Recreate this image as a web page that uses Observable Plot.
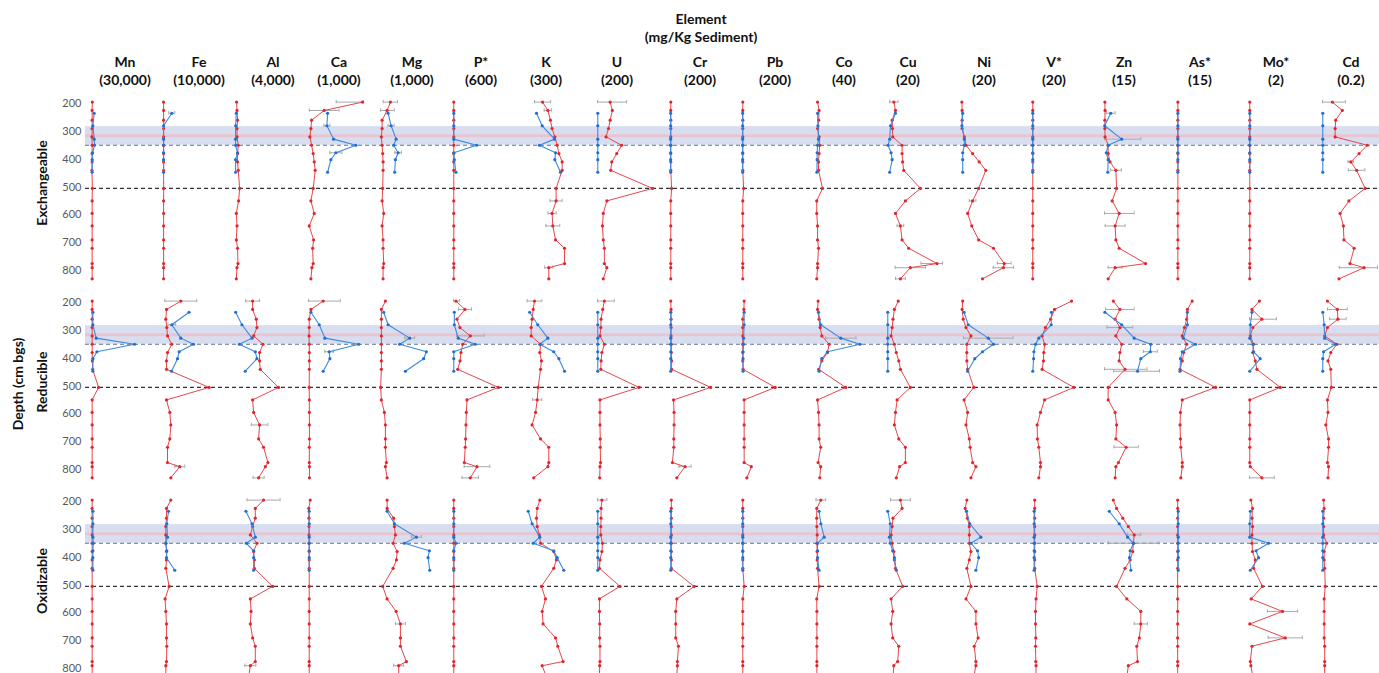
<!DOCTYPE html>
<html><head><meta charset="utf-8">
<script src="https://cdn.jsdelivr.net/npm/d3@7"></script>
<script src="https://cdn.jsdelivr.net/npm/@observablehq/plot@0.6"></script>
<style>
html,body{margin:0;padding:0;background:#fff}
body{width:1379px;height:673px;overflow:hidden;position:relative;font-family:Lato,"Open Sans",sans-serif;color:#111}
.t{position:absolute;transform:translate(-50%,-50%);white-space:nowrap;font-weight:700;font-size:14px;line-height:16px;text-align:center}
.rot{transform:translate(-50%,-50%) rotate(-90deg)}
svg.p{position:absolute}
</style></head><body>
<script>
// ---------- data ----------
const elements = ["Mn","Fe","Al","Ca","Mg","P*","K","U","Cr","Pb","Co","Cu","Ni","V*","Zn","As*","Mo*","Cd"];
const scaleMax = [30000,10000,4000,1000,1000,600,300,200,200,200,40,20,20,20,15,15,2,0.2];
const scaleLabels = ["(30,000)","(10,000)","(4,000)","(1,000)","(1,000)","(600)","(300)","(200)","(200)","(200)","(40)","(20)","(20)","(20)","(15)","(15)","(2)","(0.2)"];
const fractions = ["Exchangeable","Reducible","Oxidizable"];
const depthTicks = [200,300,400,500,600,700,800];
const redDepths = [195,225,260,290,320,350,380,410,440,505,550,595,640,690,720,775,790,830];
const blueDepths = [235,280,328,350,377,402,447];
const bandDepths = {bandTop: 283, bandBottom: 350};
const centerDepth = 316;
const blueDashDepth = 350;
const blackDashDepth = 505;

// Exchangeable fraction (mg/kg), one array per element in the order of `elements`
const exchangeableRed = [
  [1000,900,900,900,800,900,900,900,800,1000,900,900,900,900,900,900,900,900],
  [20,20,20,20,20,20,20,20,20,30,20,20,20,20,20,20,20,20],
  [80,110,150,110,110,200,150,150,200,300,225,60,110,60,150,180,110,60],
  [984,285,56,44,25,56,85,104,122,85,44,104,13,93,75,85,62,44],
  [180,120,29,29,16,29,40,47,47,40,29,58,29,47,47,58,47,47],
  [3,3,3,3,3,3,3,3,3,3,3,3,3,3,3,3,3,3],
  [93,122,136,145,160,173,182,200,200,167,167,145,149,164,213,213,127,127],
  [46,54,46,40,31,88,70,52,48,200,34,21,18,21,25,25,34,21],
  [1,1,1,1,1,1,1,1,1,4,1,1,1,1,1,1,1,1],
  [1,1,1,1,1,1,1,1,1,4,1,1,1,1,1,1,1,1],
  [1.5,2.6,2.3,1.5,2.6,3.1,2.6,2.2,2.2,5.1,0.9,0.9,1.5,1.5,2.2,1.5,1.5,0.9],
  [2.3,2.9,1.7,1.8,1.9,5.3,5.3,5.5,5.9,12.0,6.5,2.9,4.7,5.3,7.7,18.0,8.3,4.7],
  [0.5,0.6,0.6,0.6,1.4,2.0,4.4,6.8,9.2,6.6,4.4,2.6,4.1,6.6,12.0,15.9,15.6,8.0],
  [0.1,0.1,0.1,0.1,0.1,0.1,0.1,0.1,0.1,0.1,0.1,0.1,0.1,0.1,0.1,0.1,0.1,0.1],
  [0.1,0.15,0.1,0.1,0.15,1.0,1.0,1.5,3.1,3.3,2.1,4.0,2.9,3.1,4.0,11.2,2.9,1.0],
  [0.1,0.1,0.1,0.1,0.1,0.1,0.1,0.1,0.1,0.1,0.1,0.1,0.1,0.1,0.1,0.1,0.1,0.1],
  [0.01,0.01,0.01,0.01,0.01,0.01,0.01,0.01,0.01,0.01,0.01,0.01,0.01,0.01,0.01,0.01,0.01,0.01],
  [0.036,0.072,0.048,0.046,0.046,0.163,0.133,0.103,0.124,0.155,0.096,0.064,0.076,0.078,0.115,0.1,0.151,0.06]
];
const exchangeableBlue = [
  [2000,1300,2000,2200,1100,900,900],
  [1510,10,10,10,10,10,10],
  [58,10,5,10,150,5,10],
  [347,335,456,862,498,407,347],
  [138,193,284,240,320,271,258],
  [3,3,3,253,3,9,27],
  [60,91,158,76,164,160,191],
  [1,1,1,1,1,1,1],
  [0.5,0.5,0.5,0.5,0.5,0.5,0.5],
  [0.5,0.5,0.5,0.5,0.5,0.5,0.5],
  [1.5,1.8,2.2,1.5,1.2,1.2,1.0],
  [2.9,1.1,0.8,0.2,1.3,1.7,0.8],
  [0.8,0.5,1.4,1.4,0.8,0.8,0.8],
  [0.1,0.1,0.1,0.1,0.1,0.1,0.1],
  [1.7,0.05,4.7,1.0,0.5,1.0,0.9],
  [0.1,0.1,0.1,0.1,0.1,0.1,0.1],
  [0.01,0.01,0.01,0.01,0.01,0.01,0.01],
  [0.001,0.001,0.001,0.001,0.001,0.001,0.001]
];
// Reducible fraction
const reducibleRed = [
  [900,900,900,900,900,900,900,1000,1200,4400,900,900,900,900,900,900,900,900],
  [3150,545,420,600,730,1510,730,545,545,8290,545,1150,1330,1150,730,730,2960,1330],
  [1245,1245,1510,1560,1320,2000,1750,1750,1800,3130,1245,1320,1750,1680,2040,2360,2170,1680],
  [267,44,13,13,10,13,15,15,15,13,15,15,17,17,15,15,17,17],
  [89,16,16,16,16,16,16,16,16,2,16,71,89,89,89,107,89,120],
  [27,125,38,70,183,100,82,71,46,489,147,140,136,132,128,118,256,183],
  [49,42,36,31,31,82,78,87,82,69,64,55,36,82,127,127,122,45],
  [25,19,13,12,9,25,16,13,12,151,9,9,9,10,10,11,9,8],
  [1,2,2,2,2,3,3,4,4,146,11,13,13,12,12,7,53,23],
  [6,5,1,1,1,1,1,1,2,119,6,6,6,6,6,6,32,16],
  [1.9,1.5,2.6,3.4,4.6,9.9,8.7,4.6,2.3,22,1.5,2.2,2.6,2.6,3.8,1.9,3.8,3.1],
  [3.9,2.5,2.0,1.7,1.3,2.5,3.2,4.1,4.7,8.3,3.5,2.9,2.5,4.1,6.5,6.5,4.4,3.2],
  [0.8,0.6,1.0,2.0,3.8,2.3,2.3,2.3,2.6,4.8,1.3,2.6,2.0,3.2,3.5,4.4,5.6,3.8],
  [14.2,8.0,6.6,4.7,3.5,4.4,4.1,4.0,3.5,15.0,4.4,2.9,1.7,1.8,2.3,2.9,2.9,2.3],
  [2.4,4.2,2.9,4.2,3.1,4.7,4.2,4.0,5.6,1.0,1.0,2.9,3.3,3.1,5.9,3.8,3.1,2.9],
  [4.0,2.7,2.5,1.9,1.3,2.5,1.7,1.3,0.7,10.4,1.3,0.8,0.7,0.8,0.9,1.3,1.3,0.9],
  [0.36,0.09,0.45,0.12,0.03,0.15,0.12,0.21,0.27,1.12,0.01,0.01,0.01,0.01,0.01,0.01,0.03,0.45],
  [0.018,0.054,0.056,0.018,0.008,0.052,0.030,0.020,0.030,0.032,0.018,0.020,0.012,0.022,0.022,0.018,0.022,0.020]
];
const reducibleBlue = [
  [1300,1300,3100,24000,3500,1300,1300],
  [4650,1510,3150,5450,2840,2550,1450],
  [10,470,1200,280,1440,1560,710],
  [44,195,298,911,376,389,267],
  [58,138,531,349,834,785,453],
  [9,9,52,238,3,3,3],
  [23,67,122,78,154,182,213],
  [1,1,1,1,1,1,1],
  [1,1,1,1,1,1,1],
  [6,6,4,4,2,2,2],
  [2.2,3.8,18.4,32.4,8.7,4.6,2.6],
  [0.1,0.1,0.1,0.1,0.1,0.1,0.1],
  [1.3,2.8,10.1,12.0,8.0,5.2,2.6],
  [6.9,6.8,2.3,1.1,0.5,0.4,0.1],
  [0.1,4.7,8.1,12.6,12.5,9.9,9.0],
  [2.7,2.7,1.6,4.9,1.3,0.8,0.7],
  [0.09,0.03,0.01,0.12,0.15,0.39,0.01],
  [0.001,0.006,0.008,0.048,0.004,0.001,0.001]
];
// Oxidizable fraction
const oxidizableRed = [
  [900,900,900,900,900,900,900,900,900,900,900,900,900,900,900,900,900,900],
  [1330,545,545,420,420,420,545,545,420,1020,290,420,545,545,600,545,420,420],
  [2040,1440,1440,1245,1080,1560,1320,1370,1370,2700,1080,1130,1080,1245,1440,1440,1080,950],
  [31,5,8,10,10,10,13,13,13,13,13,13,13,13,13,13,13,13],
  [120,120,240,253,271,229,302,289,229,40,120,284,362,362,362,471,331,331],
  [3,3,3,3,3,3,3,3,3,3,3,3,3,3,3,3,3,3],
  [78,64,60,64,75,82,154,169,154,87,109,91,96,164,176,205,91,114],
  [16,13,13,12,12,18,16,9,7,82,7,7,8,8,9,9,8,7],
  [3,3,3,3,3,3,3,3,3,86,23,19,19,19,29,25,25,23],
  [1,1,1,1,1,1,1,1,1,6,1,1,1,1,1,1,1,1],
  [3.9,0.9,0.9,1.0,1.2,1.0,1.2,1.2,1.5,2.6,0.9,1.0,1.0,1.0,1.0,1.0,1.0,1.0],
  [4.7,5.3,2.0,1.7,1.3,1.7,2.3,2.5,2.9,5.5,1.3,1.9,1.3,1.9,4.1,3.7,2.3,2.0],
  [2.3,1.7,2.5,3.2,3.2,3.2,3.8,3.2,2.3,3.8,2.0,5.6,5.6,6.4,5.0,5.6,5.6,4.8],
  [0.8,0.8,0.8,0.8,0.8,0.8,0.8,0.8,0.8,1.7,1.3,1.1,1.1,1.2,1.1,1.2,1.3,1.2],
  [2.4,3.3,5.0,6.5,8.1,7.9,7.7,7.0,5.6,3.3,6.1,9.9,9.9,9.5,8.8,9.0,6.5,6.1],
  [0.05,0.05,0.05,0.05,0.05,0.05,0.05,0.05,0.05,0.05,0.05,0.05,0.05,0.05,0.05,0.05,0.05,0.05],
  [0.05,0.11,0.09,0.11,0.09,0.09,0.11,0.21,0.15,0.47,0.06,1.20,0.01,1.30,0.09,0.03,0.05,0.12],
  [0.004,0.006,0.004,0.004,0.004,0.015,0.006,0.006,0.008,0.010,0.006,0.006,0.006,0.006,0.008,0.008,0.008,0.008]
];
const oxidizableBlue = [
  [1300,1300,1300,1500,1300,1300,1300],
  [910,600,730,420,600,545,2050],
  [760,1200,1440,785,1320,1320,1320],
  [13,13,13,13,13,13,13],
  [120,253,653,435,889,865,895],
  [3,3,3,27,3,3,3],
  [15,36,78,42,154,173,209],
  [1,1,1,1,1,1,1],
  [1,1,1,1,1,1,1],
  [1,1,1,1,1,1,1],
  [2.6,3.9,6.3,1.5,1.5,1.5,2.6],
  [0.1,1.0,0.7,1.0,1.9,2.5,3.2],
  [2.2,3.4,7.4,3.8,6.2,6.6,5.6],
  [0.6,0.6,0.6,0.6,0.6,0.6,0.6],
  [1.3,4.0,6.3,7.9,7.0,6.8,7.2],
  [0.2,0.2,0.2,0.2,0.2,0.2,0.2],
  [0.03,0.01,0.01,0.69,0.24,0.33,0.03],
  [0.001,0.001,0.001,0.001,0.001,0.001,0.001]
];
// error bars: [fraction, element, core, depth, ± error]
const errorBars = [
  ["Exchangeable","Ca","red",195,480],["Exchangeable","Ca","red",225,270],["Exchangeable","Ca","blue",280,55],["Exchangeable","Ca","blue",377,110],
  ["Exchangeable","Mg","red",195,130],["Exchangeable","Mg","red",225,130],["Exchangeable","Mg","blue",280,55],["Exchangeable","Mg","blue",377,60],
  ["Exchangeable","Fe","blue",235,550],
  ["Exchangeable","K","red",195,44],["Exchangeable","K","red",225,20],["Exchangeable","K","red",550,33],["Exchangeable","K","red",595,22],["Exchangeable","K","red",640,38],["Exchangeable","K","red",790,22],
  ["Exchangeable","U","red",195,60],
  ["Exchangeable","Cu","red",195,1.5],["Exchangeable","Cu","red",775,5.8],["Exchangeable","Cu","red",790,5.5],["Exchangeable","Cu","red",830,1.8],["Exchangeable","Cu","red",640,1.2],
  ["Exchangeable","Ni","red",775,2.5],["Exchangeable","Ni","red",790,3.7],["Exchangeable","Ni","red",550,1.2],
  ["Exchangeable","Zn","blue",328,5.2],["Exchangeable","Zn","red",595,4.1],["Exchangeable","Zn","red",640,2.7],["Exchangeable","Zn","red",790,1.9],["Exchangeable","Zn","red",440,1.5],["Exchangeable","Zn","blue",235,1.2],
  ["Exchangeable","Cd","red",195,0.047],["Exchangeable","Cd","red",440,0.03],["Exchangeable","Cd","red",790,0.09],["Exchangeable","Cd","red",410,0.01],
  ["Reducible","Fe","red",195,2900],["Reducible","Fe","red",790,900],["Reducible","Fe","blue",280,700],
  ["Reducible","Al","red",195,500],["Reducible","Al","red",640,600],["Reducible","Al","red",830,400],
  ["Reducible","Ca","red",195,310],["Reducible","Ca","blue",377,80],
  ["Reducible","Mg","blue",328,90],
  ["Reducible","P*","red",320,150],["Reducible","P*","red",790,140],["Reducible","P*","red",830,90],["Reducible","P*","red",225,70],["Reducible","P*","red",195,40],
  ["Reducible","K","red",195,40],["Reducible","K","red",550,25],
  ["Reducible","U","red",195,36],
  ["Reducible","Cr","red",790,22],
  ["Reducible","Co","blue",328,11],
  ["Reducible","Ni","blue",328,9],
  ["Reducible","Zn","red",225,3.9],["Reducible","Zn","red",290,3.5],["Reducible","Zn","red",440,6.0],["Reducible","Zn","blue",447,6.5],["Reducible","Zn","blue",377,1.9],["Reducible","Zn","red",720,3.3],
  ["Reducible","Mo*","red",260,0.53],["Reducible","Mo*","red",830,0.45],
  ["Reducible","Cd","red",225,0.036],["Reducible","Cd","red",260,0.03],
  ["Oxidizable","Al","red",195,1200],["Oxidizable","Al","red",790,400],
  ["Oxidizable","Mg","blue",328,90],["Oxidizable","Mg","red",640,90],["Oxidizable","Mg","red",790,90],
  ["Oxidizable","Zn","blue",350,6.9],["Oxidizable","Zn","red",320,1.8],["Oxidizable","Zn","red",640,1.8],
  ["Oxidizable","Mo*","red",595,0.55],["Oxidizable","Mo*","red",690,0.62],
  ["Oxidizable","U","red",195,18],
  ["Oxidizable","Co","red",195,3.5],
  ["Oxidizable","Cu","red",195,3.6]
];

// ---------- layout ----------
const W = 1379;
const rowTop = [95, 294, 493];
const rowH = 195, mTop = 8, mBottom = 20;
const panelX0 = 90.3, panelStep = 72.44, panelPadL = 7, panelW = 72, panelPadR = 10;
const headerCenters = [125,199,273,339,412,481,546,617,700,775,844,908,984,1054,1124,1200,1276,1351];
const RED = "#e0262d", REDLINE = "#e5464c", BLUE = "#1f6fd0", BLUELINE = "#3a8ae0", ERR = "#a9a9a9";
const redByFraction = [exchangeableRed, reducibleRed, oxidizableRed];
const blueByFraction = [exchangeableBlue, reducibleBlue, oxidizableBlue];

function addText(txt, x, y, cls, extra) {
  const d = document.createElement("div");
  d.className = "t" + (cls ? " " + cls : "");
  d.textContent = txt;
  d.style.left = x + "px"; d.style.top = y + "px";
  if (extra) Object.assign(d.style, extra);
  document.body.appendChild(d);
}
function place(svg, left, top) {
  svg.classList.add("p");
  svg.style.left = left + "px"; svg.style.top = top + "px";
  document.body.appendChild(svg);
}

// titles
addText("Element", 701, 19);
addText("(mg/Kg Sediment)", 701, 37);
elements.forEach((e, i) => {
  addText(e, headerCenters[i], 62);
  addText(scaleLabels[i], headerCenters[i], 80);
});
addText("Depth (cm bgs)", 18, 384, "rot");

fractions.forEach((fr, r) => {
  const top = rowTop[r];
  // background: band, reference lines and depth axis
  const bg = Plot.plot({
    width: W, height: rowH, marginLeft: 85, marginRight: 0, marginTop: mTop, marginBottom: mBottom,
    style: {background: "transparent", fontFamily: "Lato, 'Open Sans', sans-serif", fontSize: "11px", color: "#595959", overflow: "visible"},
    y: {domain: [200, 800], reverse: true, ticks: depthTicks, tickSize: 0, tickPadding: 4, label: null},
    marks: [
      Plot.rect([bandDepths], {y1: "bandTop", y2: "bandBottom", fill: "#d8deef"}),
      Plot.ruleY([centerDepth], {stroke: "#e8c6d1", strokeWidth: 3}),
      Plot.ruleY([blueDashDepth], {stroke: "#66708a", strokeWidth: 1, strokeDasharray: "4,3"}),
      Plot.ruleY([blackDashDepth], {stroke: "#333", strokeWidth: 1.3, strokeDasharray: "4,3"})
    ]
  });
  place(bg, 0, top);
  addText(fr, 42, top + mTop + (rowH - mTop - mBottom) / 2 - 4, "rot");

  elements.forEach((el, i) => {
    const max = scaleMax[i];
    const red = redByFraction[r][i].map((v, j) => ({depth: redDepths[j], value: v}));
    const blue = blueByFraction[r][i].map((v, j) => ({depth: blueDepths[j], value: v}));
    const errs = errorBars.filter(d => d[0] === fr && d[1] === el).map(([, , core, depth, e]) => {
      const src = core === "red" ? red : blue;
      const p = src.find(d => d.depth === depth);
      const v = p ? p.value : 0;
      return {depth, lo: Math.max(0, v - e), hi: Math.min(max, v + e)};
    });
    const caps = errs.flatMap(d => [{depth: d.depth, x: d.lo}, {depth: d.depth, x: d.hi}]);
    const svg = Plot.plot({
      width: panelW, height: rowH, marginLeft: panelPadL, marginRight: panelPadR, marginTop: mTop, marginBottom: mBottom,
      style: {background: "transparent", overflow: "visible"},
      x: {domain: [0, max], axis: null},
      y: {domain: [200, 800], reverse: true, axis: null},
      marks: [
        Plot.ruleY(errs, {y: "depth", x1: "lo", x2: "hi", stroke: ERR, strokeWidth: 1}),
        Plot.ruleX(caps, {x: "x", y1: d => d.depth - 6, y2: d => d.depth + 6, stroke: ERR, strokeWidth: 1}),
        Plot.line(red, {x: "value", y: "depth", stroke: REDLINE, strokeWidth: 1}),
        Plot.dot(red, {x: "value", y: "depth", r: 1.6, fill: RED, stroke: "none"}),
        Plot.line(blue, {x: "value", y: "depth", stroke: BLUELINE, strokeWidth: 1.1}),
        Plot.dot(blue, {x: "value", y: "depth", r: 1.6, fill: BLUE, stroke: "none"})
      ]
    });
    place(svg, panelX0 + i * panelStep - panelPadL, top);
  });
});
</script>
</body></html>
